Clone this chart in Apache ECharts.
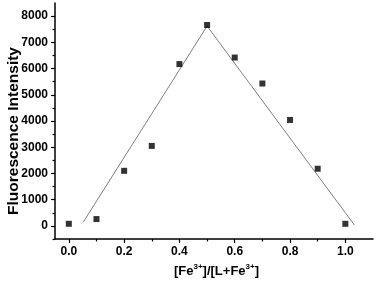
<!DOCTYPE html>
<html>
<head>
<meta charset="utf-8">
<script src="https://cdn.jsdelivr.net/npm/echarts@6/dist/echarts.min.js"></script>
<style>
html,body{margin:0;padding:0;background:#fff;}
#chart{width:376px;height:283px;}
</style>
</head>
<body>
<div id="chart"></div>
<script>
// Data
var ratioX = [0.0, 0.1, 0.2, 0.3, 0.4, 0.5, 0.6, 0.7, 0.8, 0.9, 1.0];
var intensity = [80, 260, 2100, 3050, 6170, 7660, 6420, 5430, 4040, 2180, 80];
var fitX = [0.052, 0.5, 1.033];
var fitY = [140, 7620, 30];
var xTickValues = [0.0, 0.2, 0.4, 0.6, 0.8, 1.0];
var xMinorValues = [0.1, 0.3, 0.5, 0.7, 0.9];
var yTickValues = [0, 1000, 2000, 3000, 4000, 5000, 6000, 7000, 8000];
var yMinorValues = [-500, 500, 1500, 2500, 3500, 4500, 5500, 6500, 7500];
var xTitle = '[Fe{sup|3+}]/[L+Fe{sup|3+}]';
var yTitle = 'Fluorescence Intensity';

var FONT = '"Liberation Sans", Arial, sans-serif';
var chart = echarts.init(document.getElementById('chart'), null, {renderer: 'canvas'});

var pointData = ratioX.map(function (x, i) { return [x, intensity[i]]; });
var fitData = fitX.map(function (x, i) { return [x, fitY[i]]; });

var axisLineStyle = {color: '#000', width: 1.5};

chart.setOption({
  animation: false,
  backgroundColor: '#fff',
  grid: {left: 55, right: 3, top: 3, bottom: 44, containLabel: false, outerBoundsMode: 'none'},
  xAxis: [{
    type: 'value', min: -0.05, max: 1.1,
    position: 'bottom',
    axisLine: {show: true, lineStyle: axisLineStyle, onZero: false},
    axisTick: {show: true, inside: false, length: 4, lineStyle: {color: '#000', width: 1.2}, customValues: xTickValues},
    axisLabel: {show: true, margin: 7, customValues: xTickValues, color: '#000', fontFamily: FONT, fontWeight: 700, fontSize: 12,
      formatter: function (v) { return v.toFixed(1); }},
    splitLine: {show: false},
    name: xTitle, nameLocation: 'middle', nameGap: 24, nameMoveOverlap: false,
    nameTextStyle: {color: '#000', fontFamily: FONT, fontWeight: 700, fontSize: 13, lineHeight: 16, padding: [0, 0, 0, 5],
      rich: {sup: {fontSize: 8, fontWeight: 700, fontFamily: FONT, color: '#000', verticalAlign: 'top', lineHeight: 16, padding: [0, 0, 7, 0]}}}
  }, {
    type: 'value', min: -0.05, max: 1.1,
    position: 'bottom',
    axisLine: {show: false, onZero: false},
    axisTick: {show: true, inside: false, length: 2.5, lineStyle: {color: '#000', width: 1.2}, customValues: xMinorValues},
    axisLabel: {show: false},
    splitLine: {show: false}
  }],
  yAxis: [{
    type: 'value', min: -500, max: 8500,
    position: 'left',
    axisLine: {show: true, lineStyle: axisLineStyle, onZero: false},
    axisTick: {show: true, inside: false, length: 4, lineStyle: {color: '#000', width: 1.2}, customValues: yTickValues},
    axisLabel: {show: true, margin: 7, customValues: yTickValues, color: '#000', fontFamily: FONT, fontWeight: 700, fontSize: 12,
      formatter: function (v) { return String(v); }},
    splitLine: {show: false},
    name: yTitle, nameLocation: 'middle', nameGap: 33, nameRotate: 90, nameMoveOverlap: false,
    nameTextStyle: {color: '#000', fontFamily: FONT, fontWeight: 700, fontSize: 15.5, padding: [0, 20, 0, 0]}
  }, {
    type: 'value', min: -500, max: 8500,
    position: 'left',
    axisLine: {show: false, onZero: false},
    axisTick: {show: true, inside: false, length: 2.5, lineStyle: {color: '#000', width: 1.2}, customValues: yMinorValues},
    axisLabel: {show: false},
    splitLine: {show: false}
  }],
  series: [{
    type: 'line', data: fitData, xAxisIndex: 0, yAxisIndex: 0,
    showSymbol: false, symbol: 'none',
    lineStyle: {color: '#808080', width: 1},
    z: 2
  }, {
    type: 'scatter', data: pointData, xAxisIndex: 0, yAxisIndex: 0,
    symbol: 'rect', symbolSize: 6,
    itemStyle: {color: '#000'},
    z: 3
  }]
});
</script>
</body>
</html>
